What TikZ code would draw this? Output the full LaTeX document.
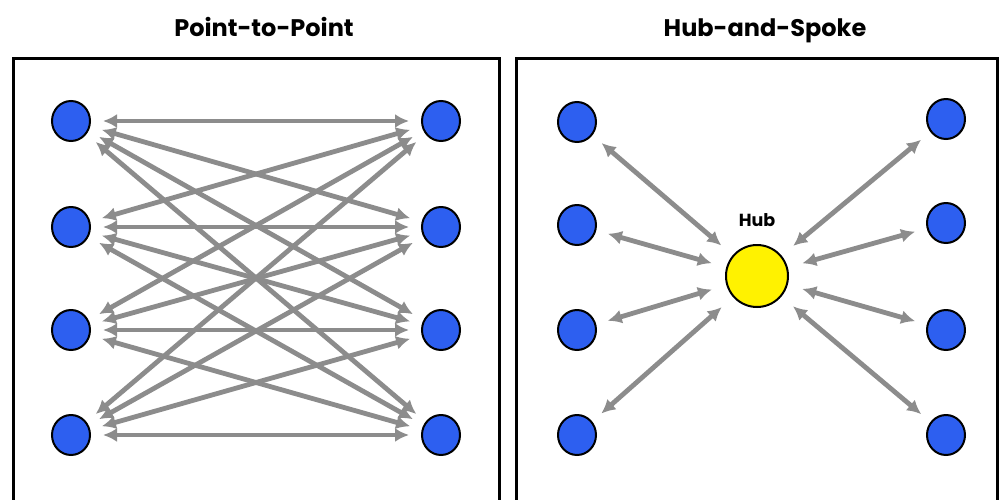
\documentclass[tikz,border=0pt]{standalone}
\usepackage{fontspec}
\setmainfont{Poppins}
\usetikzlibrary{arrows.meta,shapes.geometric}
\definecolor{nodeblue}{RGB}{45,95,240}
\definecolor{arrowgray}{RGB}{140,140,140}
\begin{document}
\begin{tikzpicture}[x=1pt,y=-1pt,
  site/.style={ellipse, draw=black, line width=2pt, fill=nodeblue, minimum width=38pt, minimum height=40pt, inner sep=0pt},
  hubnode/.style={circle, draw=black, line width=2pt, fill=yellow, minimum size=62pt, inner sep=0pt},
  link/.style={draw=arrowgray, line width=4.8pt, {Latex[length=14pt,width=14pt]}-{Latex[length=14pt,width=14pt]}, shorten <=12pt, shorten >=12pt},
  spoke/.style={link, shorten >=15pt},
  panel/.style={draw=black, line width=3pt},
  title/.style={font=\bfseries\fontsize{24}{26}\selectfont, anchor=base},
  hublabel/.style={font=\bfseries\fontsize{17.5}{19}\selectfont, anchor=base}]
\useasboundingbox (0,0) rectangle (1002,499);
\fill[white] (0,0) rectangle (1002,499);
\begin{scope}
\clip (0,0) rectangle (1002,499);
\draw[panel] (13,520) -- (13,58) -- (499,58) -- (499,520);
\draw[panel] (516,520) -- (516,58) -- (997,58) -- (997,520);
\end{scope}
\node[title] (t1) at (264,36) {Point-to-Point};
\node[title] (t2) at (765,36) {Hub-and-Spoke};
% left panel
\foreach \i/\y in {1/121,2/227,3/330,4/435}{
  \node[site] (L\i) at (71,\y) {};
  \node[site] (R\i) at (441,\y) {};
}
\foreach \i in {1,...,4}{
  \foreach \j in {1,...,4}{
    \draw[link] (L\i) -- (R\j);
  }
}
% right panel
\node[hubnode] (hub) at (757,276) {};
\node[hublabel] (hl) at (757,226) {Hub};
\foreach \i/\y in {1/122,2/225,3/330,4/435}{
  \node[site] (A\i) at (577,\y) {};
  \draw[spoke] (A\i) -- (hub);
}
\foreach \i/\y in {1/119,2/223,3/330,4/435}{
  \node[site] (B\i) at (946,\y) {};
  \draw[spoke] (B\i) -- (hub);
}
\end{tikzpicture}
\end{document}
